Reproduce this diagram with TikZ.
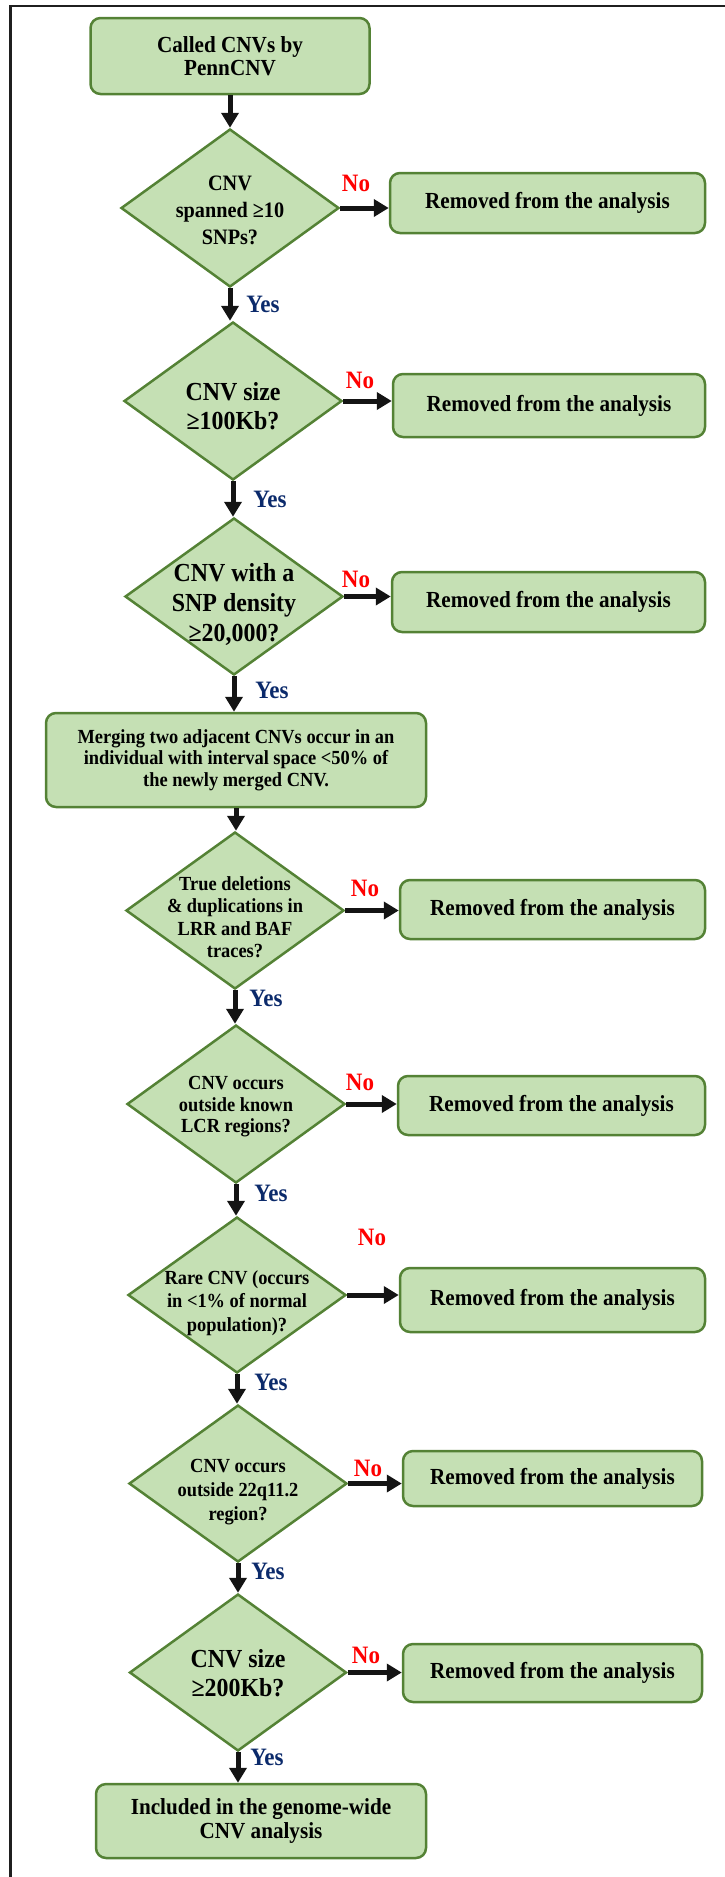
\documentclass[tikz,border=0pt]{standalone}
\usepackage{fontspec}
\setmainfont{Liberation Serif}[FakeStretch=0.92]
\usetikzlibrary{shapes.geometric,arrows.meta}
\definecolor{boxfill}{HTML}{C5E0B4}
\definecolor{boxline}{HTML}{548235}
\definecolor{yescol}{HTML}{0B2A6B}
\definecolor{nocol}{HTML}{FF0000}
\newcommand{\dtxt}[4]{\makebox[0pt]{\fontsize{#1}{#2}\selectfont\bfseries\smash{\raisebox{\dimexpr-0.25em-#3pt\relax}{\begin{tabular}{@{}c@{}}#4\end{tabular}}}}}
\tikzset{
  box/.style={draw=boxline, fill=boxfill, line width=2.5pt, rounded corners=10pt, align=center, inner sep=0pt},
  dia/.style={draw=boxline, fill=boxfill, line width=2.5pt, diamond, inner sep=0pt, minimum width=218pt, minimum height=157pt},
  bigtxt/.style={font=\bfseries\fontsize{23}{23.5}\selectfont},
  smalltxt/.style={font=\bfseries\fontsize{20}{21.5}\selectfont},
  arr/.style={line width=5pt, draw=black!92, -{Triangle[length=15pt,width=17pt]}},
  yeslab/.style={text=yescol, font=\bfseries\fontsize{25}{25}\selectfont, inner sep=0pt},
  nolab/.style={text=nocol, font=\bfseries\fontsize{25}{25}\selectfont, inner sep=0pt},
  remove/.style={box, bigtxt},
}
\begin{document}
\begin{tikzpicture}[x=1pt,y=-1pt]
\useasboundingbox (0,0) rectangle (724,1877);
\draw[line width=2.8pt, draw=black!88] (10.5,1900) -- (10.5,6) -- (740,6);

% main column
\node[box, bigtxt, minimum width=279pt, minimum height=76pt] (start) at (230,56) {Called CNVs by\\PennCNV};
\node[dia, minimum height=158pt] (d1) at (230,208) {\dtxt{22}{27}{4}{CNV\\spanned ≥10\\SNPs?}};
\node[dia, minimum height=158pt] (d2) at (233,401) {\dtxt{26}{29}{7.5}{CNV size\\≥100Kb?}};
\node[dia] (d3) at (234,596.5) {\dtxt{26}{30}{9}{CNV with a\\SNP density\\≥20,000?}};
\node[box, smalltxt, minimum width=380pt, minimum height=94pt] (merge) at (236,760) {Merging two adjacent CNVs occur in an\\individual with interval space <50\% of\\the newly merged CNV.};
\node[dia] (d4) at (235,910.5) {\dtxt{20}{22.5}{9}{True deletions\\\& duplications in\\LRR and BAF\\traces?}};
\node[dia, minimum height=158pt] (d5) at (236,1104) {\dtxt{20}{21.5}{3}{CNV occurs\\outside known\\LCR regions?}};
\node[dia, minimum height=156pt] (d6) at (237,1295) {\dtxt{20}{23.5}{8}{Rare CNV (occurs\\in <1\% of normal\\population)?}};
\node[dia] (d7) at (238,1483.5) {\dtxt{20}{24}{8}{CNV occurs\\outside 22q11.2\\region?}};
\node[dia, minimum width=217pt] (d8) at (238,1672.5) {\dtxt{26}{29}{3}{CNV size\\≥200Kb?}};
\node[box, bigtxt, minimum width=330pt, minimum height=74pt] (final) at (261,1821) {Included in the genome-wide\\CNV analysis};

% removed boxes
\node[remove, minimum width=315pt, minimum height=60pt] (r1) at (547.5,203) {Removed from the analysis};
\node[remove, minimum width=312pt, minimum height=63pt] (r2) at (549,405.5) {Removed from the analysis};
\node[remove, minimum width=313pt, minimum height=60pt] (r3) at (548.5,602) {Removed from the analysis};
\node[remove, minimum width=305pt, minimum height=59pt] (r4) at (552.5,909.5) {Removed from the analysis};
\node[remove, minimum width=307pt, minimum height=59pt] (r5) at (551.5,1105.5) {Removed from the analysis};
\node[remove, minimum width=305pt, minimum height=64pt] (r6) at (552.5,1300) {Removed from the analysis};
\node[remove, minimum width=299pt, minimum height=55pt] (r7) at (552.5,1478.5) {Removed from the analysis};
\node[remove, minimum width=299pt, minimum height=58pt] (r8) at (552.5,1673) {Removed from the analysis};

% vertical arrows
\draw[arr] (start.south) -- (start.south |- d1.north);
\draw[arr] (d1.south) -- (d1.south |- d2.north);
\draw[arr] (d2.south) -- (d2.south |- d3.north);
\draw[arr] (d3.south) -- (d3.south |- merge.north);
\draw[arr] (merge.south) -- (merge.south |- d4.north);
\draw[arr] (d4.south) -- (d4.south |- d5.north);
\draw[arr] (d5.south) -- (d5.south |- d6.north);
\draw[arr] (d6.south) -- (d6.south |- d7.north);
\draw[arr] (d7.south) -- (d7.south |- d8.north);
\draw[arr] (d8.south) -- (d8.south |- final.north);

% horizontal arrows
\draw[arr] (d1.east) -- (d1.east -| r1.west);
\draw[arr] (d2.east) -- (d2.east -| r2.west);
\draw[arr] (d3.east) -- (d3.east -| r3.west);
\draw[arr] (d4.east) -- (d4.east -| r4.west);
\draw[arr] (d5.east) -- (d5.east -| r5.west);
\draw[arr] (d6.east) -- (d6.east -| r6.west);
\draw[arr] (d7.east) -- (d7.east -| r7.west);
\draw[arr] (d8.east) -- (d8.east -| r8.west);

% labels
\node[nolab] (no1) at (356,183) {No};
\node[nolab] (no2) at (360,380) {No};
\node[nolab] (no3) at (356,579) {No};
\node[nolab] (no4) at (365,888) {No};
\node[nolab] (no5) at (360,1082) {No};
\node[nolab] (no6) at (372,1237) {No};
\node[nolab] (no7) at (368,1468) {No};
\node[nolab] (no8) at (366,1655) {No};
\node[yeslab] (yes1) at (263,304) {Yes};
\node[yeslab] (yes2) at (270,499) {Yes};
\node[yeslab] (yes3) at (272,690) {Yes};
\node[yeslab] (yes4) at (266,998) {Yes};
\node[yeslab] (yes5) at (271,1193) {Yes};
\node[yeslab] (yes6) at (271,1382) {Yes};
\node[yeslab] (yes7) at (268,1571) {Yes};
\node[yeslab] (yes8) at (267,1757) {Yes};
\end{tikzpicture}
\end{document}
